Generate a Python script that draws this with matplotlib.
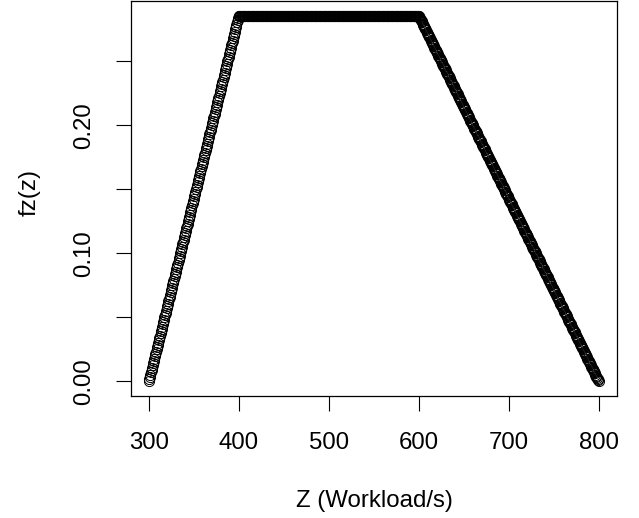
import numpy as np
import matplotlib
matplotlib.use("Agg")
import matplotlib.pyplot as plt

# Trapezoidal density: corner points
z_knots = [300, 400, 600, 800]
fz_knots = [0.0, 0.2857, 0.2857, 0.0]
n_points = 801  # number of evenly spaced points along Z

x_ticks = [300, 400, 500, 600, 700, 800]
y_ticks = [0.00, 0.05, 0.10, 0.15, 0.20, 0.25]
y_ticklabels = ["0.00", "", "0.10", "", "0.20", ""]
x_label = "Z (Workload/s)"
y_label = "fz(z)"

z = np.linspace(z_knots[0], z_knots[-1], n_points)
fz = np.interp(z, z_knots, fz_knots)

plt.rcParams['font.family'] = ['Liberation Sans', 'DejaVu Sans']
W, H = 639, 518
fig = plt.figure(figsize=(W / 100, H / 100), dpi=100)
left, right, top, bottom = 130.7, 616.7, 1.0, 396.0
ax = fig.add_axes([left / W, 1 - bottom / H, (right - left) / W, (bottom - top) / H])

ax.plot(z, fz, linestyle='none', marker='o', markersize=7.3,
        markerfacecolor='none', markeredgecolor='black', markeredgewidth=0.7)

pad_x = 0.04 * (z_knots[-1] - z_knots[0])
ymax = max(fz_knots)
ax.set_xlim(z_knots[0] - pad_x, z_knots[-1] + pad_x)
ax.set_ylim(-0.04 * ymax, ymax * 1.04)

ax.set_xticks(x_ticks)
ax.set_xticklabels([str(t) for t in x_ticks])
ax.set_yticks(y_ticks)
ax.set_yticklabels(y_ticklabels, rotation=90, va='center')

fs = 17.3
ax.tick_params(axis='both', direction='out', length=10.8, width=0.8,
               labelsize=fs, pad=15.0, color='black')
for s in ax.spines.values():
    s.set_linewidth(0.9)
    s.set_color('black')

ax.set_xlabel(x_label, fontsize=fs)
ax.set_ylabel(y_label, fontsize=fs)
ax.xaxis.label.set_va('center')
ax.yaxis.label.set_va('center')
ax.xaxis.set_label_coords((374 - left) / (right - left), -(501 - bottom) / (bottom - top))
ax.yaxis.set_label_coords(-(left - 30) / (right - left), (bottom - 192) / (bottom - top))

fig.savefig("out.png", dpi=100)
